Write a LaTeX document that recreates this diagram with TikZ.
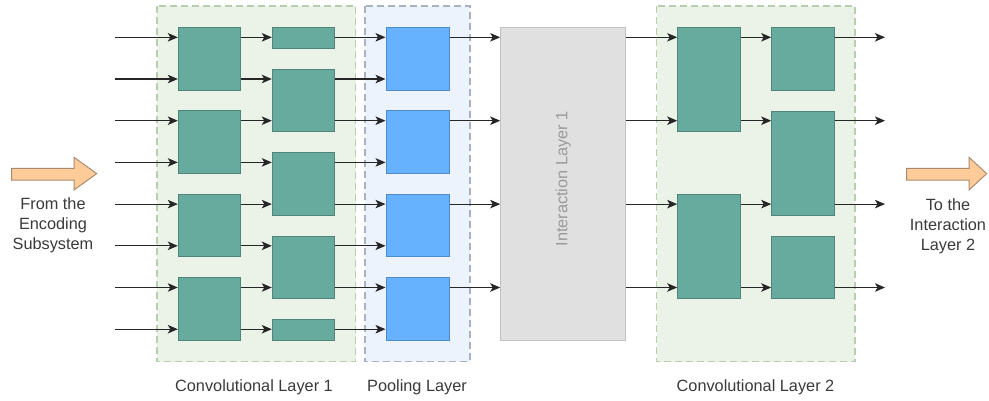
\documentclass[tikz,border=0pt]{standalone}
\usepackage{fontspec}
\setmainfont{Liberation Sans}
\usetikzlibrary{arrows.meta}
\definecolor{tealfill}{HTML}{67AB9F}
\definecolor{tealdraw}{HTML}{4F8479}
\definecolor{poolfill}{HTML}{66B2FF}
\definecolor{pooldraw}{HTML}{4D8CCB}
\definecolor{convbg}{HTML}{EBF3E9}
\definecolor{convdash}{HTML}{B7CEAF}
\definecolor{poolbg}{HTML}{EDF3FC}
\definecolor{pooldash}{HTML}{A8B2C2}
\definecolor{interfill}{HTML}{E0E0E0}
\definecolor{interdraw}{HTML}{C2C2C2}
\definecolor{intertext}{HTML}{9A9A9A}
\definecolor{orfill}{HTML}{FFCC99}
\definecolor{ordraw}{HTML}{A98B6E}
\definecolor{labeltext}{HTML}{3A3A3A}
\tikzset{
  tealbox/.style={draw=tealdraw, fill=tealfill, line width=1pt, inner sep=0pt},
  poolbox/.style={draw=pooldraw, fill=poolfill, line width=1pt, inner sep=0pt, minimum width=63pt, minimum height=62.7pt},
  container/.style={line width=1.5pt, dash pattern=on 7pt off 4pt},
  arr/.style={draw=black!85, line width=1.1pt, -{Stealth[length=10pt,width=8.5pt,inset=2.5pt]}},
  lbl/.style={font=\fontsize{16.3}{20}\selectfont, text=labeltext, align=center, inner sep=0pt},
  blockarrow/.style={fill=orfill, draw=ordraw, line width=1pt, line join=miter}
}
\begin{document}
\begin{tikzpicture}[x=1pt,y=-1pt]
\useasboundingbox (0,0) rectangle (989,400);

% containers
\path[container, fill=convbg, draw=convdash] (157,6) rectangle (355.7,361.7);
\path[container, fill=poolbg, draw=pooldash] (365,6) rectangle (470,361.7);
\path[container, fill=convbg, draw=convdash] (656.7,6) rectangle (855,361.7);

% row coordinates
\foreach \i/\y in {1/37.3,2/79.0,3/120.7,4/162.4,5/204.1,6/245.8,7/287.5,8/329.2}{
  \coordinate (r\i) at (0,\y);
  \coordinate (in\i) at (115,\y);
}

% conv layer 1, column 1
\node[tealbox, minimum width=62.4pt, minimum height=62.7pt] (a1) at (209.5,58.65) {};
\node[tealbox, minimum width=62.4pt, minimum height=62.7pt] (a2) at (209.5,142) {};
\node[tealbox, minimum width=62.4pt, minimum height=62.7pt] (a3) at (209.5,225.35) {};
\node[tealbox, minimum width=62.4pt, minimum height=62.7pt] (a4) at (209.5,308.65) {};
% conv layer 1, column 2
\node[tealbox, minimum width=62pt, minimum height=21pt] (b1) at (303.3,37.8) {};
\node[tealbox, minimum width=62pt, minimum height=62.7pt] (b2) at (303.3,100.35) {};
\node[tealbox, minimum width=62pt, minimum height=62.7pt] (b3) at (303.3,183.65) {};
\node[tealbox, minimum width=62pt, minimum height=62.3pt] (b4) at (303.3,267.15) {};
\node[tealbox, minimum width=62pt, minimum height=21pt] (b5) at (303.3,329.5) {};
% pooling
\node[poolbox] (p1) at (417.5,58.65) {};
\node[poolbox] (p2) at (417.5,142) {};
\node[poolbox] (p3) at (417.5,225.35) {};
\node[poolbox] (p4) at (417.5,308.65) {};
% interaction layer
\node[draw=interdraw, fill=interfill, line width=1pt, minimum width=125pt, minimum height=312.7pt, inner sep=0pt] (inter) at (563.2,183.65) {};
\node[rotate=90, font=\fontsize{16.3}{20}\selectfont, text=intertext, inner sep=0pt] (intertxt) at (563.2,179) {Interaction Layer 1};
% conv layer 2
\node[tealbox, minimum width=63pt, minimum height=104.4pt] (c1) at (709.2,79.5) {};
\node[tealbox, minimum width=63pt, minimum height=104.3pt] (c2) at (709.2,246.15) {};
\node[tealbox, minimum width=62.3pt, minimum height=62.7pt] (d1) at (802.85,58.65) {};
\node[tealbox, minimum width=62.3pt, minimum height=104pt] (d2) at (802.85,163) {};
\node[tealbox, minimum width=62.3pt, minimum height=62.3pt] (d3) at (802.85,267.15) {};
\coordinate (out1) at (885,0);

% inputs
\foreach \i/\t in {1/a1,2/a1,3/a2,4/a2,5/a3,6/a3,7/a4,8/a4}{
  \draw[arr] (in\i) -- (\t.west |- in\i);
}
% col1 -> col2
\foreach \i/\s/\t in {1/a1/b1,2/a1/b2,3/a2/b2,4/a2/b3,5/a3/b3,6/a3/b4,7/a4/b4,8/a4/b5}{
  \draw[arr] (\s.east |- r\i) -- (\t.west |- r\i);
}
% col2 -> pooling
\foreach \i/\s/\t in {1/b1/p1,2/b2/p1,3/b2/p2,4/b3/p2,5/b3/p3,6/b4/p3,7/b4/p4,8/b5/p4}{
  \draw[arr] (\s.east |- r\i) -- (\t.west |- r\i);
}
% pooling -> interaction
\foreach \i/\s in {1/p1,3/p2,5/p3,7/p4}{
  \draw[arr] (\s.east |- r\i) -- (inter.west |- r\i);
}
% interaction -> conv2 col1
\foreach \i/\t in {1/c1,3/c1,5/c2,7/c2}{
  \draw[arr] (inter.east |- r\i) -- (\t.west |- r\i);
}
% conv2 col1 -> col2
\foreach \i/\s/\t in {1/c1/d1,3/c1/d2,5/c2/d2,7/c2/d3}{
  \draw[arr] (\s.east |- r\i) -- (\t.west |- r\i);
}
% outputs
\foreach \i/\s in {1/d1,3/d2,5/d2,7/d3}{
  \draw[arr] (\s.east |- r\i) -- (out1 |- r\i);
}

% block arrows
\draw[blockarrow] (11.7,168.3) -- (74,168.3) -- (74,157.3) -- (96.7,173.6) -- (74,190) -- (74,180) -- (11.7,180) -- cycle;
\draw[blockarrow] (906.7,168.3) -- (969,168.3) -- (969,157.3) -- (986.7,173.6) -- (969,190) -- (969,180) -- (906.7,180) -- cycle;

% side labels
\node[lbl] (fromlbl) at (53,225.3) {From the\\Encoding\\Subsystem};
\node[lbl] (tolbl) at (948,226) {To the\\Interaction\\Layer 2};

% bottom labels
\node[lbl] (l1) at (254,387) {Convolutional Layer 1};
\node[lbl] (l2) at (417,387) {Pooling Layer};
\node[lbl] (l3) at (755.5,387) {Convolutional Layer 2};
\end{tikzpicture}
\end{document}
